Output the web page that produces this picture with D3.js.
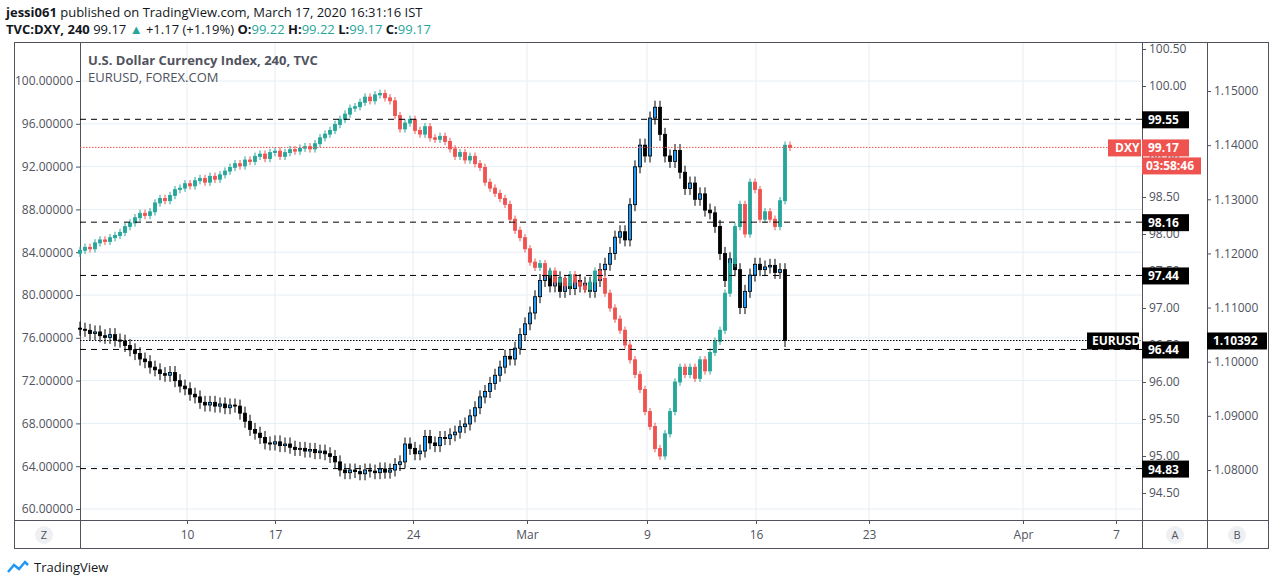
<!DOCTYPE html><html><head><meta charset="utf-8"><script src="https://cdn.jsdelivr.net/npm/d3@7"></script>
<style>body{margin:0;background:#fff;font-family:"Open Sans",Arial,sans-serif}</style></head><body><svg id="c" width="1274" height="586"></svg><script>
const eurClose=[1.1060,1.1058,1.1052,1.1055,1.1048,1.1045,1.1050,1.1040,1.1038,1.1030,1.1022,
1.1015,1.1005,1.1000,1.0990,1.0985,1.0978,1.0975,1.0980,1.0965,1.0955,
1.0950,1.0940,1.0935,1.0925,1.0920,1.0925,1.0918,1.0922,1.0915,1.0920,
1.0918,1.0905,1.0890,1.0875,1.0868,1.0860,1.0850,1.0848,1.0852,1.0845,
1.0848,1.0842,1.0838,1.0840,1.0835,1.0838,1.0832,1.0835,1.0830,1.0825,
1.0815,1.0800,1.0795,1.0800,1.0797,1.0793,1.0800,1.0798,1.0795,1.0802,
1.0796,1.0800,1.0810,1.0815,1.0848,1.0840,1.0830,1.0835,1.0862,1.0850,
1.0845,1.0860,1.0858,1.0865,1.0870,1.0880,1.0885,1.0900,1.0915,1.0935,
1.0945,1.0960,1.0975,1.0990,1.1010,1.1005,1.1025,1.1050,1.1070,1.1090,
1.1120,1.1150,1.1160,1.1140,1.1155,1.1130,1.1145,1.1135,1.1150,1.1140,
1.1145,1.1130,1.1150,1.1170,1.1180,1.1200,1.1230,1.1240,1.1225,1.1290,
1.1360,1.1400,1.1380,1.1450,1.1470,1.1420,1.1380,1.1370,1.1390,1.1350,
1.1320,1.1330,1.1300,1.1310,1.1280,1.1275,1.1250,1.1200,1.1150,1.1190,
1.1170,1.1100,1.1130,1.1160,1.1180,1.1170,1.1175,1.1178,1.1165,1.1170,1.10392];
const dxyClose=[97.78,97.82,97.80,97.88,97.92,97.90,97.95,97.98,98.02,98.10,98.15,
98.22,98.28,98.25,98.30,98.42,98.48,98.45,98.52,98.60,98.62,
98.68,98.65,98.72,98.75,98.70,98.78,98.74,98.80,98.85,98.90,
98.95,98.92,99.00,98.98,99.05,99.08,99.02,99.10,99.12,99.05,
99.10,99.14,99.12,99.16,99.18,99.15,99.22,99.30,99.35,99.40,
99.48,99.55,99.62,99.70,99.72,99.78,99.85,99.80,99.88,99.90,
99.84,99.80,99.60,99.42,99.50,99.55,99.40,99.35,99.45,99.30,
99.28,99.32,99.25,99.15,99.05,99.10,99.00,99.05,98.95,98.90,
98.70,98.62,98.55,98.48,98.40,98.20,98.05,97.95,97.80,97.62,
97.55,97.60,97.45,97.50,97.35,97.40,97.30,97.45,97.35,97.30,
97.25,97.35,97.50,97.40,97.20,97.00,96.85,96.70,96.50,96.30,
96.10,95.90,95.60,95.40,95.10,95.00,95.30,95.60,96.00,96.20,
96.10,96.20,96.05,96.30,96.15,96.40,96.55,96.70,97.20,97.60,
98.10,98.40,98.00,98.70,98.60,98.20,98.30,98.20,98.10,98.45,99.20,99.17];
const xTickLabels=["10","17","24","Mar","9","16","23","Apr","7"];
const xTickBars=[21.4,39,66.6,89.4,113.4,135.2,157.8,188.6,207.2];
const leftTicks=[60,64,68,72,76,80,84,88,92,96,100];
const dxyTicks=[94.5,95,95.5,96,96.5,97,97.5,98,98.5,99,99.5,100,100.5];
const eurTicks=[1.08,1.09,1.10,1.11,1.12,1.13,1.14,1.15];
const levels=[99.55,98.16,97.44,96.44,94.83];

const svg=d3.select("#c");
const L=80,R=1142,T=42,B=520;
const x=d3.scaleLinear().domain([0,212.4]).range([L,R]);
const yD=d3.scaleLinear().domain([94.5,100]).range([493,86]);
const yE=d3.scaleLinear().domain([1.08,1.15]).range([470,91]);
const yL=d3.scaleLinear().domain([60,100]).range([509,81]);
const grid="#e6eef4";
const g=svg.append("g");
leftTicks.forEach(v=>g.append("line").attr("x1",L).attr("x2",R).attr("y1",yL(v)).attr("y2",yL(v)).attr("stroke",grid));
xTickBars.forEach(v=>g.append("line").attr("x1",x(v)).attr("x2",x(v)).attr("y1",T).attr("y2",B).attr("stroke",grid));
const fr=svg.append("g").attr("stroke","#50535e").attr("fill","none");
fr.append("rect").attr("x",14.5).attr("y",T+.5).attr("width",1254).attr("height",548-T);
[L,R,1207].forEach(v=>fr.append("line").attr("x1",v+.5).attr("x2",v+.5).attr("y1",T).attr("y2",548));
fr.append("line").attr("x1",14).attr("x2",1268).attr("y1",B+.5).attr("y2",B+.5);
svg.append("text").attr("x",6).attr("y",17).attr("font-size",13).attr("fill","#131722").html('<tspan font-weight="bold">jessi061</tspan> published on TradingView.com, March 17, 2020 16:31:16 IST');
svg.append("text").attr("x",6).attr("y",34).attr("font-size",13).attr("fill","#131722").html('<tspan font-weight="bold">TVC:DXY, 240</tspan> 99.17 <tspan fill="#26a69a">▲</tspan> +1.17 (+1.19%) <tspan font-weight="bold">O:</tspan><tspan fill="#26a69a">99.22</tspan> <tspan font-weight="bold">H:</tspan><tspan fill="#26a69a">99.22</tspan> <tspan font-weight="bold">L:</tspan><tspan fill="#26a69a">99.17</tspan> <tspan font-weight="bold">C:</tspan><tspan fill="#26a69a">99.17</tspan>');
svg.append("text").attr("x",88).attr("y",65).attr("font-size",13).attr("font-weight","bold").attr("fill","#50535e").text("U.S. Dollar Currency Index, 240, TVC");
svg.append("text").attr("x",88).attr("y",82).attr("font-size",13).attr("fill","#50535e").text("EURUSD, FOREX.COM");
const ax=(sel,scale,ticks,fmt,orient)=>{const a=(orient==="l"?d3.axisLeft(scale):d3.axisRight(scale)).tickValues(ticks).tickFormat(fmt).tickSize(4).tickSizeOuter(0);
 const gg=sel.call(a);gg.select(".domain").remove();gg.selectAll("text").attr("fill","#50535e").attr("font-size",12).attr("font-family","Open Sans");gg.selectAll("line").attr("stroke","#50535e");};
ax(svg.append("g").attr("transform",`translate(${L},0)`),yL,leftTicks,d3.format(".5f"),"l");
ax(svg.append("g").attr("transform",`translate(${R},0)`),yD,dxyTicks,d3.format(".2f"),"r");
ax(svg.append("g").attr("transform",`translate(1207,0)`),yE,eurTicks,d3.format(".5f"),"r");
const xa=svg.append("g").attr("transform",`translate(0,${B})`).call(d3.axisBottom(x).tickValues(xTickBars).tickFormat((d,i)=>xTickLabels[i]).tickSize(4));
xa.select(".domain").remove();xa.selectAll("text").attr("fill","#50535e").attr("font-size",12).attr("font-family","Open Sans").attr("dy","1em");xa.selectAll("line").attr("stroke","#50535e");
function candles(close,y,up,down,upStroke,downStroke,wick){
 const cg=svg.append("g");
 close.forEach((c,i)=>{const o=i?close[i-1]:c-(close[1]-close[0]);const hi=Math.max(o,c)+wick,lo=Math.min(o,c)-wick;
  const isUp=c>=o;const cx=x(i);
  cg.append("line").attr("x1",cx).attr("x2",cx).attr("y1",y(hi)).attr("y2",y(lo)).attr("stroke",isUp?upStroke:downStroke);
  const y1=y(Math.max(o,c)),y2=y(Math.min(o,c));
  cg.append("rect").attr("x",cx-1.6).attr("width",3.2).attr("y",y1).attr("height",Math.max(1,y2-y1)).attr("fill",isUp?up:down).attr("stroke",isUp?upStroke:downStroke).attr("stroke-width",0.8);
 });}
candles(eurClose,yE,"#2196f3","#000","#000","#000",0.0012);
candles(dxyClose,yD,"#26a69a","#ef5350","#26a69a","#ef5350",0.05);
levels.forEach(v=>{svg.append("line").attr("x1",L).attr("x2",R).attr("y1",yD(v)).attr("y2",yD(v)).attr("stroke","#000").attr("stroke-dasharray","6,5");
 svg.append("rect").attr("x",R).attr("y",yD(v)-8).attr("width",47).attr("height",17).attr("fill","#000");
 svg.append("text").attr("x",R+6).attr("y",yD(v)+5).attr("fill","#fff").attr("font-size",12).attr("font-weight","bold").text(v.toFixed(2));});
const last=dxyClose[dxyClose.length-1];
svg.append("line").attr("x1",L).attr("x2",R).attr("y1",yD(last)).attr("y2",yD(last)).attr("stroke","#ef5350").attr("stroke-dasharray","1.5,1.5");
svg.append("rect").attr("x",1108).attr("y",yD(last)-8).attr("width",33).attr("height",17).attr("fill","#ef5350");
svg.append("text").attr("x",1115).attr("y",yD(last)+5).attr("fill","#fff").attr("font-size",12).attr("font-weight","bold").text("DXY");
svg.append("rect").attr("x",R).attr("y",yD(last)-8).attr("width",47).attr("height",17).attr("fill","#ef5350");
svg.append("text").attr("x",R+6).attr("y",yD(last)+5).attr("fill","#fff").attr("font-size",12).attr("font-weight","bold").text(last.toFixed(2));
svg.append("rect").attr("x",R).attr("y",yD(last)+10).attr("width",59).attr("height",17).attr("fill","#ef5350");
svg.append("text").attr("x",R+4).attr("y",yD(last)+23).attr("fill","#fff").attr("font-size",12).attr("font-weight","bold").text("03:58:46");
const le=eurClose[eurClose.length-1];
svg.append("line").attr("x1",L).attr("x2",R).attr("y1",yE(le)).attr("y2",yE(le)).attr("stroke","#000").attr("stroke-dasharray","1.5,1.5");
svg.append("rect").attr("x",1087).attr("y",yE(le)-8).attr("width",52).attr("height",17).attr("fill","#000");
svg.append("text").attr("x",1092).attr("y",yE(le)+5).attr("fill","#fff").attr("font-size",12).attr("font-weight","bold").text("EURUSD");
svg.append("rect").attr("x",1207).attr("y",yE(le)-8).attr("width",60).attr("height",17).attr("fill","#000");
svg.append("text").attr("x",1213).attr("y",yE(le)+5).attr("fill","#fff").attr("font-size",12).attr("font-weight","bold").text(le.toFixed(5));
[["Z",44],["A",1175],["B",1237]].forEach(([t,cx])=>{svg.append("circle").attr("cx",cx).attr("cy",535).attr("r",9).attr("fill","#eef0f3");
 svg.append("text").attr("x",cx).attr("y",539).attr("text-anchor","middle").attr("font-size",11).attr("fill","#50535e").text(t);});
svg.append("text").attr("x",34).attr("y",572).attr("font-size",13).attr("fill","#131722").text("TradingView");
svg.append("path").attr("d","M8 572 l6 -7 l5 4 l6 -7 l3 3").attr("stroke","#2196f3").attr("stroke-width",2.5).attr("fill","none");
</script></body></html>
